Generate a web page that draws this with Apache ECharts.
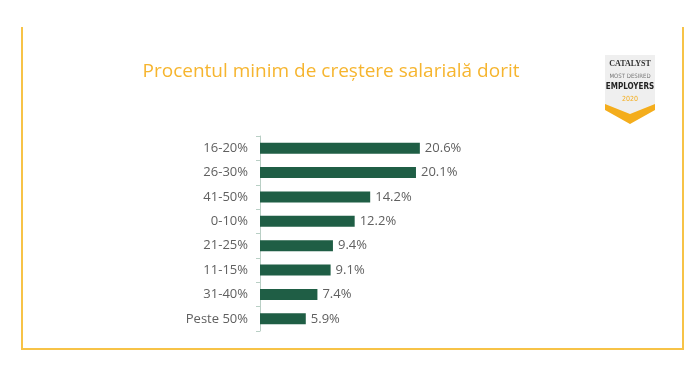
<!DOCTYPE html>
<html>
<head>
<meta charset="utf-8">
<script src="https://cdn.jsdelivr.net/npm/echarts@6/dist/echarts.min.js"></script>
<style>
html,body{margin:0;padding:0;background:#fff;}
#c{width:700px;height:368px;}
</style>
</head>
<body>
<div id="c"></div>
<script>
var categories = ['16-20%', '26-30%', '41-50%', '0-10%', '21-25%', '11-15%', '31-40%', 'Peste 50%'];
var values = [20.6, 20.1, 14.2, 12.2, 9.4, 9.1, 7.4, 5.9];
var titleText = 'Procentul minim de creștere salarială dorit';

var chart = echarts.init(document.getElementById('c'), null, {renderer: 'canvas'});
chart.setOption({
  backgroundColor: '#ffffff',
  animation: false,
  title: {
    text: titleText,
    left: 326,
    top: 57,
    textAlign: 'center',
    textStyle: {color: '#f6b52f', fontSize: 19, fontWeight: 'normal', fontFamily: 'Open Sans'}
  },
  grid: {left: 260, right: 246, top: 136, bottom: 37, containLabel: false},
  xAxis: {type: 'value', min: 0, max: 25, show: false},
  yAxis: {
    type: 'category',
    data: categories,
    inverse: true,
    axisLine: {show: true, lineStyle: {color: '#b9cfc5', width: 1}},
    axisTick: {show: true, length: 4, lineStyle: {color: '#b9cfc5'}},
    axisLabel: {color: '#606060', fontSize: 13, fontFamily: 'Open Sans', margin: 12}
  },
  series: [{
    type: 'bar',
    data: values,
    barWidth: 11,
    itemStyle: {color: '#1f5e45'},
    label: {
      show: true,
      position: 'right',
      distance: 5,
      formatter: function (p) { return p.value.toFixed(1) + '%'; },
      color: '#606060',
      fontSize: 13,
      fontFamily: 'Open Sans'
    }
  }],
  graphic: [
    {type: 'polyline', shape: {points: [[22, 27], [22, 349], [683, 349], [683, 27]]},
     style: {stroke: '#f7c347', lineWidth: 2, fill: null}},
    {type: 'polygon', shape: {points: [[605, 55], [655, 55], [655, 108], [630, 123], [605, 108]]},
     style: {fill: '#efefef'}},
    {type: 'polygon', shape: {points: [[605, 104], [630, 114], [655, 104], [655, 110], [630, 124], [605, 110]]},
     style: {fill: '#f4ad1c'}},
    {type: 'text', x: 630, y: 64, style: {text: 'CATALYST', fill: '#333', font: 'bold 8px "Liberation Serif", serif', textAlign: 'center', textVerticalAlign: 'middle'}},
    {type: 'text', x: 630, y: 76, style: {text: 'MOST DESIRED', fill: '#777', font: '6px "DejaVu Sans Condensed", sans-serif', textAlign: 'center', textVerticalAlign: 'middle'}},
    {type: 'text', x: 630, y: 87, style: {text: 'EMPLOYERS', fill: '#222', font: 'bold 8px "DejaVu Sans Condensed", sans-serif', textAlign: 'center', textVerticalAlign: 'middle'}},
    {type: 'text', x: 630, y: 99, style: {text: '2020', fill: '#f4ad1c', font: '7px "DejaVu Sans Condensed", sans-serif', textAlign: 'center', textVerticalAlign: 'middle'}}
  ]
});
</script>
</body>
</html>
